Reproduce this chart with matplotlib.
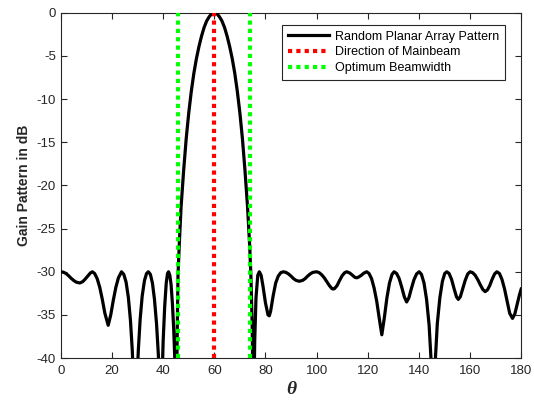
import matplotlib
matplotlib.use("Agg")
import matplotlib.pyplot as plt

# gain pattern (theta in degrees, gain in dB)
theta = [
    0, 1, 2, 3, 4, 5, 6, 7.4, 8.5, 9.5, 10.5, 11.5, 12.3, 13.2, 14.2, 15.2, 16.2, 17.2,
    18.5, 19.5, 20.5, 21.5, 22.5, 23.7, 24.6, 25.5, 26.4, 27.2, 27.9, 28.5, 29.1, 29.7,
    30.3, 31.0, 31.8, 32.7, 33.5, 34.2, 35.0, 35.8, 36.6, 37.4, 38.1, 38.6, 39.0, 39.5,
    40.0, 40.6, 41.2, 41.7, 42.1, 42.6, 43.1, 43.6, 44.1, 44.6, 45.1,
    45.5, 45.8, 46.3, 47.0, 48.0, 49.0, 50.0, 51.0, 52.0, 53.0, 54.0, 55.0, 56.0, 57.0,
    58.0, 59.0, 60.0, 61.0, 62.0, 63.0, 64.0, 65.0, 66.0, 67.0, 68.0, 69.0, 70.0, 71.0,
    72.0, 73.0, 73.8, 74.3,
    74.8, 75.3, 75.8, 76.3, 77.0, 77.6, 78.3, 79.0, 80.0, 81.0, 81.5, 82.0, 83.0, 84.0,
    85.0, 86.0, 87.0, 88.0, 89.0, 90.0, 91.0, 92.0, 93.2, 94.5, 95.5, 96.5, 97.5, 98.5,
    100.0, 101.0, 102.0, 103.0, 104.0, 105.0, 106.0, 106.5, 107.0, 108.0, 109.0, 110.0,
    111.0, 111.8, 113.0, 114.0, 115.0, 115.7, 116.5, 117.5, 118.5, 119.6, 120.5, 121.5,
    122.5, 123.5, 124.5, 125.5, 126.5, 127.5, 128.5, 129.5, 130.3, 131.3, 132.3, 133.3,
    134.3, 135.2, 136.1, 137.1, 138.1, 139.1, 140.1, 141.0, 142.0, 143.0, 144.0, 145.0,
    145.6, 146.2, 147.2, 148.2, 149.2, 150.1, 150.9, 151.8, 152.8, 153.8, 154.7, 155.4,
    156.2, 157.1, 158.1, 159.1, 160.0, 161.0, 162.0, 163.0, 164.0, 165.0, 165.9, 166.8,
    167.7, 168.6, 169.6, 170.5, 171.5, 172.5, 173.5, 174.5, 175.5, 176.6, 177.5, 178.5,
    179.3, 180.0,
]
gain_db = [
    -30.0, -30.05, -30.2, -30.45, -30.75, -31.0, -31.2, -31.3, -31.15, -30.85, -30.5, -30.15,
    -30.0, -30.2, -30.8, -31.8, -33.2, -34.8, -36.2, -35.0, -33.3, -31.8, -30.7, -30.0,
    -30.3, -31.2, -33.0, -35.6, -39.0, -43.0, -50.0, -43.0, -39.0, -35.5, -32.8, -31.0,
    -30.2, -30.0, -30.3, -31.3, -33.2, -36.0, -39.5, -43.0, -50.0, -43.0, -38.0, -34.0,
    -31.3, -30.2, -30.0, -30.4, -31.5, -33.6, -36.5, -40.5, -48.0,
    -37.0, -30.4, -26.8, -22.5, -18.3, -14.6, -11.6, -9.1, -7.0, -5.3, -3.9, -2.7, -1.7,
    -0.95, -0.45, -0.1, 0.0, -0.1, -0.45, -0.95, -1.7, -2.7, -3.9, -5.3, -7.0, -9.1, -11.6,
    -14.6, -18.3, -22.5, -26.8, -30.4,
    -36.0, -48.0, -38.0, -33.0, -30.4, -30.0, -30.4, -31.6, -33.6, -35.0, -35.1,
    -34.6, -32.8, -31.3, -30.5, -30.1, -30.0, -30.07, -30.25, -30.5, -30.8, -31.0, -31.1,
    -31.0, -30.8, -30.5, -30.25, -30.07, -30.0, -30.1, -30.35, -30.7, -31.15, -31.6,
    -31.95, -32.0, -31.95, -31.6, -31.0, -30.45, -30.1, -30.0, -30.15, -30.4, -30.65,
    -30.7, -30.6, -30.4, -30.15, -30.0, -30.2, -30.8, -31.9, -33.4, -35.4, -37.3, -35.3,
    -33.0, -31.3, -30.3, -30.0, -30.2, -30.8, -31.8, -32.9, -33.5, -33.0, -31.9, -30.9,
    -30.25, -30.0, -30.3, -31.3, -33.2, -36.2, -41.5, -48.0, -41.5, -36.0, -33.0, -31.1,
    -30.2, -30.0, -30.2, -30.9, -32.0, -32.9, -33.2, -32.9, -32.0, -31.0, -30.25, -30.0,
    -30.1, -30.4, -30.9, -31.5, -32.05, -32.3, -32.1, -31.6, -30.9, -30.25, -30.0, -30.2,
    -30.9, -32.0, -33.4, -34.8, -35.4, -34.9, -33.7, -32.7, -32.0,
]

mainbeam_dir = 60.0
beamwidth_edges = [45.8, 74.1]

series_labels = ["Random Planar Array Pattern", "Direction of Mainbeam", "Optimum Beamwidth"]
x_ticks = list(range(0, 181, 20))
y_ticks = list(range(-40, 1, 5))


def main() -> None:
    plt.rcParams["font.family"] = ["Liberation Sans", "DejaVu Sans"]
    plt.rcParams["axes.unicode_minus"] = False
    fig = plt.figure(figsize=(5.34, 4.01), dpi=100)
    ax = fig.add_axes([0.114, 0.107, 0.862, 0.861])

    ax.plot(theta, gain_db, color="black", lw=2.3, label=series_labels[0], zorder=3)
    ax.plot([mainbeam_dir, mainbeam_dir], [-40, 0], color="#ff0000", lw=3,
            ls=(0, (1, 1)), label=series_labels[1], zorder=4)
    for i, edge in enumerate(beamwidth_edges):
        ax.plot([edge, edge], [-40, 0], color="#00ff00", lw=3, ls=(0, (1, 1)),
                label=series_labels[2] if i == 0 else None, zorder=4)

    ax.set_xlim(0, 180)
    ax.set_ylim(-40, 0)
    ax.set_xticks(x_ticks)
    ax.set_yticks(y_ticks)
    ax.tick_params(direction="in", top=True, right=True, length=4, width=0.8,
                   labelsize=9.5, colors="#262626")
    ax.tick_params(axis="x", pad=5)
    for spine in ax.spines.values():
        spine.set_color("#262626")
        spine.set_linewidth(0.8)

    ax.set_ylabel("Gain Pattern in dB", fontsize=10, fontweight="bold", color="#262626")
    ax.set_xlabel("θ", fontsize=14, fontweight="bold", fontstyle="italic",
                  family=["Liberation Serif", "DejaVu Serif"], color="#262626", labelpad=3)

    leg = ax.legend(loc="upper right", bbox_to_anchor=(0.965, 0.965), borderaxespad=0,
                    fontsize=9, frameon=True, fancybox=False, framealpha=1,
                    edgecolor="#262626", handlelength=3.3, borderpad=0.45,
                    labelspacing=0.3, handletextpad=0.5)
    leg.get_frame().set_linewidth(0.8)

    fig.savefig("out.png", dpi=100)
    plt.close(fig)


if __name__ == "__main__":
    main()
